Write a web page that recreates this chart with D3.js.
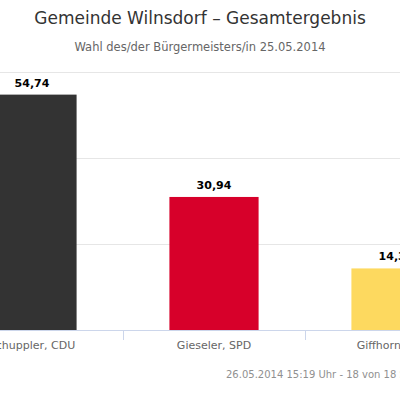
<!DOCTYPE html>
<html>
<head>
<meta charset="utf-8">
<script src="https://cdn.jsdelivr.net/npm/d3@7"></script>
<style>
  body { margin: 0; background: #fff; }
  svg { display: block; font-family: "DejaVu Sans", sans-serif; }
</style>
</head>
<body>
<div id="chart"></div>
<script>
// data
const candidates = ["Schuppler, CDU", "Gieseler, SPD", "Giffhorn, UWG"];
const shares = [54.74, 30.94, 14.32];
const barColors = ["#333333", "#d7002a", "#fdd95f"];
const yTicks = [0, 20, 40, 60];

const width = 400, height = 400;
const plot = { left: -59, right: 487, top: 72, bottom: 330 };

const svg = d3.select("#chart")
    .append("svg")
    .attr("width", width)
    .attr("height", height);

const x = d3.scaleBand()
    .domain(candidates)
    .range([plot.left, plot.right])
    .paddingInner(0.51)
    .paddingOuter(0.255);

const y = d3.scaleLinear()
    .domain([0, 60])
    .range([plot.bottom, plot.top]);

// gridlines
svg.append("g")
    .selectAll("line")
    .data(yTicks.slice(1))
    .enter().append("line")
    .attr("x1", plot.left)
    .attr("x2", plot.right)
    .attr("y1", d => Math.round(y(d)) + 0.5)
    .attr("y2", d => Math.round(y(d)) + 0.5)
    .attr("stroke", "#e6e6e6")
    .attr("stroke-width", 1);

// bars
svg.append("g")
    .selectAll("rect")
    .data(shares)
    .enter().append("rect")
    .attr("x", (d, i) => x(candidates[i]))
    .attr("y", d => y(d))
    .attr("width", x.bandwidth())
    .attr("height", d => y(0) - y(d))
    .attr("fill", (d, i) => barColors[i]);

// x axis
const xAxis = svg.append("g")
    .attr("transform", `translate(0,${plot.bottom})`);
xAxis.append("line")
    .attr("x1", plot.left).attr("x2", plot.right)
    .attr("y1", 0.5).attr("y2", 0.5)
    .attr("stroke", "#ccd6eb");
xAxis.selectAll("line.tick")
    .data(candidates.slice(1))
    .enter().append("line")
    .attr("class", "tick")
    .attr("x1", d => Math.round(x(d) - x.step() * x.paddingInner() / 2) + 0.5)
    .attr("x2", d => Math.round(x(d) - x.step() * x.paddingInner() / 2) + 0.5)
    .attr("y1", 0).attr("y2", 10)
    .attr("stroke", "#ccd6eb");
xAxis.selectAll("text")
    .data(candidates)
    .enter().append("text")
    .attr("x", d => x(d) + x.bandwidth() / 2)
    .attr("y", 19)
    .attr("text-anchor", "middle")
    .attr("fill", "#666")
    .style("font-size", "11px")
    .text(d => d);

// value labels
svg.append("g")
    .selectAll("text")
    .data(shares)
    .enter().append("text")
    .attr("x", (d, i) => x(candidates[i]) + x.bandwidth() / 2)
    .attr("y", d => y(d) - 8)
    .attr("text-anchor", "middle")
    .attr("fill", "#000")
    .style("font-size", "11px")
    .style("font-weight", "bold")
    .text(d => d.toFixed(2).replace(".", ","));

// titles
svg.append("text")
    .attr("x", 200)
    .attr("y", 24)
    .attr("text-anchor", "middle")
    .attr("fill", "#333")
    .style("font-size", "17px")
    .text("Gemeinde Wilnsdorf \u2013 Gesamtergebnis");

svg.append("text")
    .attr("x", 200)
    .attr("y", 51)
    .attr("text-anchor", "middle")
    .attr("fill", "#666")
    .style("font-size", "11.5px")
    .text("Wahl des/der B\u00fcrgermeisters/in 25.05.2014");

// credits
svg.append("text")
    .attr("x", 226)
    .attr("y", 378)
    .attr("fill", "#909090")
    .style("font-size", "10px")
    .text("26.05.2014 15:19 Uhr - 18 von 18 Stimmbezirken");
</script>
</body>
</html>
